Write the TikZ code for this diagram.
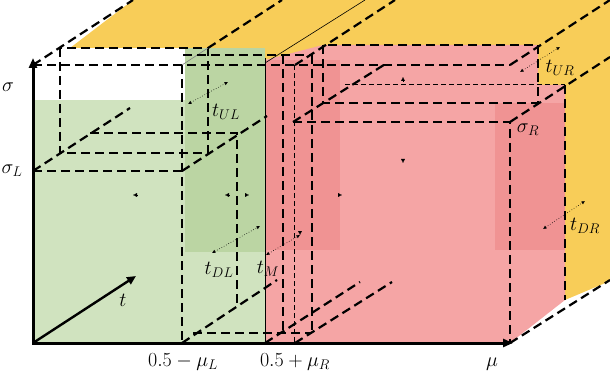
\RequirePackage{fix-cm}
\documentclass[tikz,border=0pt]{standalone}
\usetikzlibrary{arrows.meta,positioning}
\definecolor{ambertop}{HTML}{F8CD58}
\definecolor{redlight}{HTML}{F5A5A5}
\definecolor{reddense}{HTML}{F09393}
\definecolor{greenlight}{HTML}{D0E3BF}
\definecolor{greendense}{HTML}{BBD5A3}
\tikzset{
  axis/.style={line width=3pt,{Triangle[length=10pt,width=8pt]}-{Triangle[length=10pt,width=8pt]}},
  taxis/.style={line width=2.4pt,-{Triangle[length=9pt,width=8pt]}},
  edge/.style={line width=2.2pt,dash pattern=on 9pt off 5pt},
  faint/.style={line width=1pt,dash pattern=on 5pt off 3pt},
  span/.style={line width=0.6pt,dotted,{Latex[length=3.5pt,width=3.5pt]}-{Latex[length=3.5pt,width=3.5pt]}},
  nib/.style={line width=0.2pt,-{Latex[length=4pt,width=4pt]}},
  lbl/.style={font=\fontsize{20}{24}\selectfont,inner sep=0pt}
}

\begin{document}
\begin{tikzpicture}[x=1pt,y=-1pt]
  \useasboundingbox (0,0) rectangle (610,374);
  \clip (0,0) rectangle (610,374);

  % coloured faces
  \fill[ambertop] (70,48) -- (133,0) -- (610,0) -- (610,281) -- (565,300) -- (565,85)
    -- (538,85) -- (538,46) -- (323,46) -- (265,60) -- (265,48) -- cycle;
  \fill[redlight] (265,343) -- (265,60) -- (323,45) -- (538,45) -- (538,85) -- (565,85)
    -- (565,300) -- (510,343) -- cycle;
  \fill[reddense] (265,60) rectangle (340,250);
  \fill[reddense] (495,103) rectangle (565,250);
  \fill[greenlight] (33,100) rectangle (185,343);
  \fill[greenlight] (185,48) rectangle (265,343);
  \fill[greendense] (185,48) rectangle (265,252);

  % box edges
  \draw[edge] (33,65) -- (510,65);
  \draw[edge] (33,65) -- (133,0);
  \draw[edge] (60,48) rectangle (208,153);
  \draw[edge] (182,65) -- (182,343);
  \draw[edge] (33,171) -- (182,171);
  \draw[edge] (33,171) -- (130,108);
  \draw[edge] (182,171) -- (267,116);
  \draw[edge] (90,133) -- (237,133) -- (237,307);
  \draw[line width=0.6pt,gray] (182,65) -- (208,48);
  \draw[edge] (208,48) -- (282,0);
  \draw[edge] (183,55) -- (312,55);
  \draw[edge] (283,55) -- (283,333);
  \draw[edge] (312,55) -- (312,333);
  \draw[faint] (294,65) -- (294,343);
  \draw[edge] (193,333) -- (312,333);
  \draw[edge] (182,343) -- (277,280);
  \draw[edge] (265,343) -- (360,282);
  \draw[edge] (295,343) -- (392,282);
  \draw[edge] (295,65) -- (395,0);
  \draw[edge] (323,45) rectangle (538,103);
  \draw[faint] (345,85) -- (565,85);
  \draw[edge] (565,85) -- (565,300);
  \draw[edge] (293,122) -- (510,122) -- (510,343);
  \draw[edge] (293,122) -- (387,63);
  \draw[edge] (510,65) -- (610,0);
  \draw[edge] (510,122) -- (610,57);
  \draw[edge] (510,343) -- (610,280);
  \draw[line width=0.8pt] (265,58) -- (265,343);
  \draw[line width=0.6pt] (265,63) -- (365,0);

  % depth spans
  \draw[span] (188,104) -- (228,82);
  \draw[span] (212,253) -- (260,226);
  \draw[span] (266,255) -- (300,235);
  \draw[span] (520,72) -- (560,47);
  \draw[span] (543,229) -- (585,201);
  \foreach \x/\y/\dx/\dy in {133/195/4/0, 225/195/4/0, 249/195/-4/0, 342/195/-4/0,
      403/163/0/-4, 403/77/0/4, 300/235/0/-4}
    \draw[nib] (\x+\dx,\y+\dy) -- (\x,\y);

  % axes
  \coordinate (origin) at (33,343);
  \coordinate (sigmatip) at (33,58);
  \coordinate (mutip) at (513,343);
  \coordinate (ttip) at (136,276);
  \draw[axis] (sigmatip) -- (origin) -- (mutip);
  \draw[taxis] (origin) -- (ttip);

  % labels
  \node[lbl] (sigmalbl) at (8,87) {$\sigma$};
  \node[lbl] (sigmaL) at (12,171) {$\sigma_L$};
  \node[lbl] (tlbl) at (123,300) {$t$};
  \node[lbl] (tUL) at (226,112) {$t_{UL}$};
  \node[lbl] (tDL) at (219,270) {$t_{DL}$};
  \node[lbl] (tM) at (268,269) {$t_M$};
  \node[lbl] (tUR) at (560,68) {$t_{UR}$};
  \node[lbl] (sigmaR) at (528,130) {$\sigma_R$};
  \node[lbl] (tDR) at (585,226) {$t_{DR}$};
  \node[lbl] (muL) at (183,362) {$0.5-\mu_L$};
  \node[lbl] (muR) at (295,362) {$0.5+\mu_R$};
  \node[lbl] (mulbl) at (492,364) {$\mu$};
\end{tikzpicture}
\end{document}
